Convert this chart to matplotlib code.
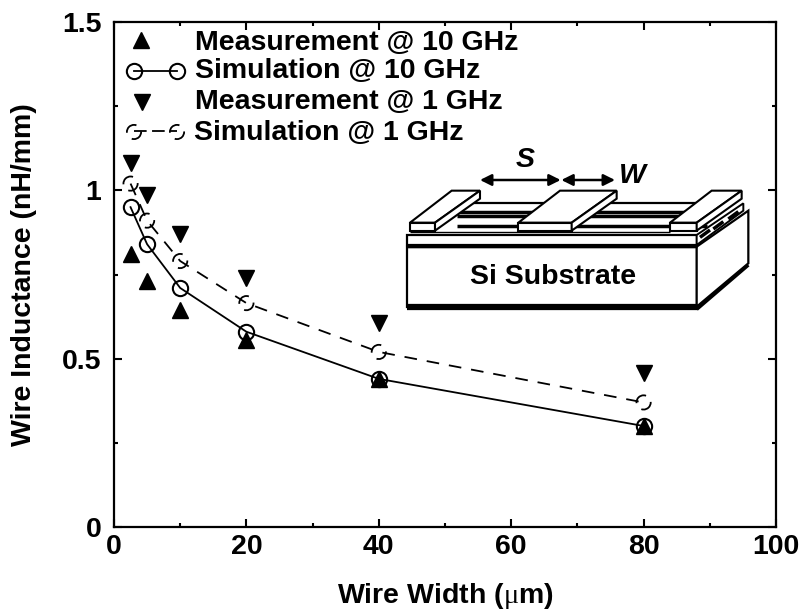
import matplotlib
matplotlib.use("Agg")
import matplotlib.pyplot as plt
from matplotlib.patches import Polygon

plt.rcParams['font.family'] = ['Liberation Sans', 'DejaVu Sans']
plt.rcParams['font.weight'] = 'bold'
plt.rcParams['mathtext.fontset'] = 'custom'
plt.rcParams['mathtext.rm'] = 'Liberation Serif:normal'

width = [2.5, 5, 10, 20, 40, 80]
meas_10 = [0.81, 0.73, 0.645, 0.555, 0.44, 0.30]
sim_10 = [0.95, 0.84, 0.71, 0.58, 0.44, 0.30]
meas_1 = [1.08, 0.985, 0.87, 0.74, 0.605, 0.457]
sim_1 = [1.02, 0.91, 0.79, 0.665, 0.52, 0.37]

legend_labels = ["Measurement @ 10 GHz", "Simulation @ 10 GHz",
                 "Measurement @ 1 GHz", "Simulation @ 1 GHz"]

fs = 20.5
fig = plt.figure(figsize=(8.01, 6.12), dpi=100)
ax = fig.add_axes([114/801, 1 - 527/612, (776-114)/801, (527-22)/612])

ax.plot(width, sim_1, color='k', lw=1.3, ls=(0, (7, 5.5)), zorder=2)
ax.scatter(width, sim_1, s=105, facecolors='none', edgecolors='k', linewidths=1.3,
           linestyles=(1.5, (8, 4.5)), zorder=3)
ax.plot(width, sim_10, color='k', lw=1.3, marker='o', ms=11, mfc='none', mec='k', mew=1.5, zorder=3)
ax.plot(width, meas_10, ls='none', marker='^', ms=11, color='k', zorder=4)
ax.plot(width, meas_1, ls='none', marker='v', ms=11, color='k', zorder=4)

ax.set_xlim(0, 100)
ax.set_ylim(0, 1.5)
ax.set_xticks([0, 20, 40, 60, 80, 100])
ax.set_xticks([10, 30, 50, 70, 90], minor=True)
ax.set_yticks([0, 0.5, 1, 1.5])
ax.set_yticklabels(['0', '0.5', '1', '1.5'])
ax.set_yticks([0.25, 0.75, 1.25], minor=True)
ax.tick_params(which='major', direction='in', top=True, right=True, length=5.5, width=1.5,
               labelsize=fs)
ax.tick_params(axis='x', which='major', pad=5)
ax.tick_params(axis='y', which='major', pad=9)
ax.tick_params(which='minor', direction='in', top=True, right=True, length=3, width=1.5)
for s in ax.spines.values():
    s.set_linewidth(1.6)
ax.set_xlabel(r"Wire Width ($\mathrm{\mu}$m)", fontsize=fs, fontweight='bold', va='baseline')
ax.set_ylabel("Wire Inductance (nH/mm)", fontsize=fs, fontweight='bold', va='center')
ax.xaxis.set_label_coords(0.5, -0.15)
ax.yaxis.set_label_coords(-0.136, 0.5)

# overlay in pixel coordinates for the hand drawn legend and sketch
ov = fig.add_axes([0, 0, 1, 1], zorder=5)
ov.set_xlim(0, 801)
ov.set_ylim(612, 0)
ov.axis('off')
ov.patch.set_alpha(0)

for label, tx, ty in zip(legend_labels, [195, 195, 195, 194], [49.5, 77.5, 109, 139.5]):
    ov.text(tx, ty, label, fontsize=fs, fontweight='bold', va='baseline', ha='left')

ov.plot([141], [40], marker='^', ms=11, color='k')
ov.plot([134, 177], [71, 71], color='k', lw=1.3, marker='o', ms=11, mfc='none', mec='k', mew=1.5)
ov.plot([142], [102], marker='v', ms=11, color='k')
ov.plot([134, 177], [131, 131], color='k', lw=1.3, ls=(0, (7, 3)))
ov.scatter([134, 177], [132, 132], s=105, facecolors='none', edgecolors='k', linewidths=1.3,
           linestyles=(1.5, (8, 4.5)))


def zx(v):
    return 390 + v / 3


def zy(v):
    return 150 + v / 3


def poly(pts, lw=1.5, fc='w', z=6):
    ov.add_patch(Polygon([(zx(a), zy(b)) for a, b in pts], closed=True, fc=fc, ec='k', lw=lw, zorder=z))


def line(xs, ys, lw=1.5, z=6):
    ov.plot([zx(a) for a in xs], [zy(b) for b in ys], color='k', lw=lw, zorder=z,
            solid_capstyle='butt')


# substrate
poly([(52, 290), (920, 290), (920, 470), (52, 470)], lw=1.6)
poly([(920, 290), (1075, 182), (1075, 340), (920, 470)], lw=1.6)
line([52, 920], [470, 470], lw=4.5)
line([920, 1075], [478, 345], lw=2.5)
# dielectric layer
poly([(52, 255), (920, 255), (920, 285), (52, 285)], lw=1.6)
line([52, 920], [288, 288], lw=2.5)
poly([(920, 255), (1060, 160), (1060, 182), (920, 285)], lw=1.4)
for a in [(945, 250), (985, 225), (1030, 195)]:
    line([a[0] - 15, a[0] + 15], [a[1] + 12, a[1] - 10], lw=2.5)
# wires under the strips
for y0, lw0 in [(160, 1.6), (185, 2.5), (198, 2.5), (228, 2.5)]:
    line([200, 950], [y0, y0], lw=lw0)
line([60, 840], [245, 245], lw=1.0)
# strips on top
for fx0, fx1, tx0, tx1 in [(60, 135, 185, 270), (385, 545, 510, 680), (840, 920, 965, 1055)]:
    poly([(fx0, 218), (tx0, 122), (tx1, 122), (fx1, 218)], z=7)
    poly([(fx0, 218), (fx1, 218), (fx1, 242), (fx0, 242)], z=7)
    poly([(fx1, 218), (tx1, 122), (tx1, 146), (fx1, 242)], z=7)

arrow = dict(arrowstyle='<|-|>', color='k', lw=1.8, mutation_scale=17, shrinkA=0, shrinkB=0)
ov.annotate('', xy=(zx(270), zy(90)), xytext=(zx(512), zy(90)), arrowprops=arrow, zorder=8)
ov.annotate('', xy=(zx(514), zy(90)), xytext=(zx(675), zy(90)), arrowprops=arrow, zorder=8)
ov.text(zx(405), zy(50), 'S', fontsize=fs, fontweight='bold', style='italic', ha='center', va='baseline')
ov.text(zx(728), zy(98), 'W', fontsize=fs, fontweight='bold', style='italic', ha='center', va='baseline')
ov.text(zx(490), zy(402), 'Si Substrate', fontsize=fs, fontweight='bold', ha='center', va='baseline', zorder=8)

fig.savefig('out.png', dpi=100)
